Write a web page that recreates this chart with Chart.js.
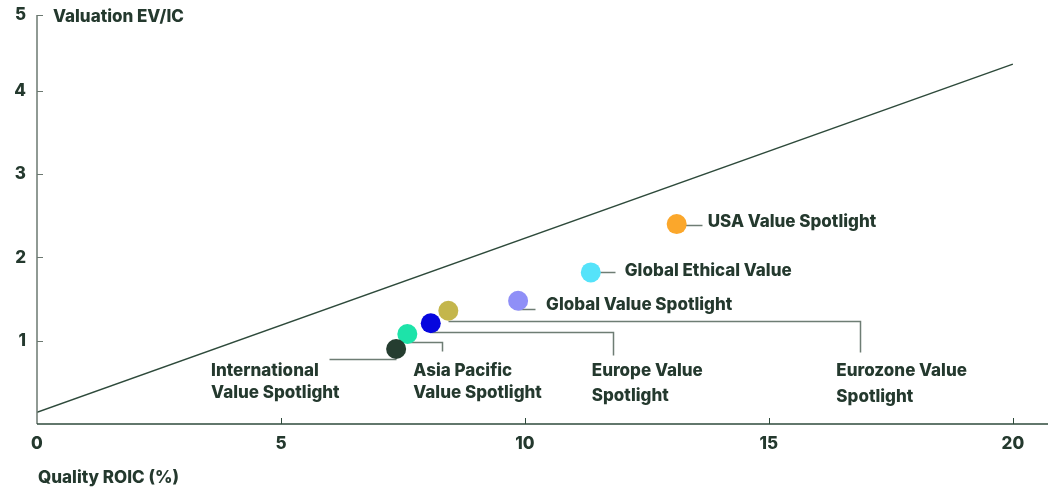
<!DOCTYPE html>
<html>
<head>
<meta charset="utf-8">
<script src="https://cdn.jsdelivr.net/npm/chart.js@4.4.1/dist/chart.umd.min.js"></script>
<style>
  html, body { margin: 0; padding: 0; background: #ffffff; }
  #wrap { width: 1048px; height: 490px; position: relative; }
</style>
</head>
<body>
<div id="wrap"><canvas id="c" width="1048" height="490"></canvas></div>
<script>
// ---- Data ----
const fundNames = ['USA Value Spotlight', 'Global Ethical Value', 'Global Value Spotlight', 'Eurozone Value Spotlight', 'Europe Value Spotlight', 'Asia Pacific Value Spotlight', 'International Value Spotlight'];
const qualityROIC = [13.11, 11.35, 9.86, 8.43, 8.07, 7.59, 7.36];
const valuationEVIC = [2.40, 1.82, 1.48, 1.36, 1.21, 1.08, 0.90];
const fundColors = ['#FBA72B', '#55E3FA', '#8F8FF7', '#C4B64C', '#0606DE', '#1DE3A9', '#253D30'];
const labelLines = [
  ['USA Value Spotlight'],
  ['Global Ethical Value'],
  ['Global Value Spotlight'],
  ['Eurozone Value', 'Spotlight'],
  ['Europe Value', 'Spotlight'],
  ['Asia Pacific', 'Value Spotlight'],
  ['International', 'Value Spotlight']
];
const trendX = [0, 20];
const trendY = [0.14, 4.32];
const xTickValues = [0, 5, 10, 15, 20];
const yTickValues = [1, 2, 3, 4, 5];
const xTitle = 'Quality ROIC (%)';
const yTitle = 'Valuation EV/IC';

// ---- Annotation layout (pixel offsets from each point centre) ----
const leaderPaths = [
  [[0, 1], [25, 1]],
  [[0, 0], [24, 0]],
  [[0, 8], [17, 8]],
  [[0, 10], [412, 10], [412, 41]],
  [[0, 9], [182, 9], [182, 32]],
  [[0, 8], [35, 8], [35, 17]],
  [[0, 10], [-67, 10]]
];
const labelOffsets = [
  { dx: 31, dy: [3] },
  { dx: 34, dy: [4] },
  { dx: 28, dy: [9] },
  { dx: 388, dy: [65, 91] },
  { dx: 161, dy: [53, 78] },
  { dx: 6, dy: [42, 64] },
  { dx: -185, dy: [27, 49] }
];

const TEXT = '#24392E';
const FONT_FAMILY = 'Inter, "Noto Sans", sans-serif';
const Y_TOP = 4.91;   // top of the value axis (labelled 5)
const X_MAX = 20.72;

const annotationPlugin = {
  id: 'annot',
  beforeDatasetsDraw(chart) {
    const ctx = chart.ctx;
    const xs = chart.scales.x, ys = chart.scales.y;
    ctx.save();
    ctx.strokeStyle = '#6E7D74';
    ctx.lineWidth = 1.5;
    qualityROIC.forEach((v, i) => {
      const px = xs.getPixelForValue(v), py = ys.getPixelForValue(valuationEVIC[i]);
      const path = leaderPaths[i];
      ctx.beginPath();
      path.forEach((p, j) => {
        const X = Math.round(px + p[0]) + 0.5, Y = Math.round(py + p[1]) + 0.5;
        if (j === 0) ctx.moveTo(X, Y); else ctx.lineTo(X, Y);
      });
      ctx.stroke();
    });
    ctx.restore();
  },
  afterDraw(chart) {
    const ctx = chart.ctx;
    const xs = chart.scales.x, ys = chart.scales.y;
    const ca = chart.chartArea;
    ctx.save();
    // axis lines
    ctx.lineWidth = 1.5;
    ctx.strokeStyle = '#6B7870';
    ctx.beginPath();
    ctx.moveTo(ca.left, ca.top);
    ctx.lineTo(ca.left, ca.bottom);
    ctx.stroke();
    ctx.strokeStyle = '#2E4A3B';
    ctx.beginPath();
    ctx.moveTo(ca.left, ca.bottom);
    ctx.lineTo(ca.right, ca.bottom);
    ctx.stroke();
    // inner ticks
    ctx.lineWidth = 1;
    ctx.strokeStyle = '#6B7870';
    yTickValues.forEach(v => {
      const y = Math.round(ys.getPixelForValue(Math.min(v, Y_TOP))) + 0.5;
      ctx.beginPath(); ctx.moveTo(ca.left, y); ctx.lineTo(ca.left + 6, y); ctx.stroke();
    });
    ctx.strokeStyle = '#2E4A3B';
    xTickValues.forEach(v => {
      if (v === 0) return;
      const x = Math.round(xs.getPixelForValue(v)) + 0.5;
      ctx.beginPath(); ctx.moveTo(x, ca.bottom); ctx.lineTo(x, ca.bottom - 6); ctx.stroke();
    });
    // axis titles
    ctx.fillStyle = TEXT;
    ctx.font = '800 17px ' + FONT_FAMILY;
    ctx.textAlign = 'left';
    ctx.textBaseline = 'alphabetic';
    ctx.fillText(yTitle, 53, 21.5);
    ctx.fillText(xTitle, 38, 483);
    // point labels
    qualityROIC.forEach((v, i) => {
      const px = xs.getPixelForValue(v), py = ys.getPixelForValue(valuationEVIC[i]);
      const off = labelOffsets[i];
      labelLines[i].forEach((t, j) => {
        ctx.fillText(t, px + off.dx, py + off.dy[j]);
      });
    });
    ctx.restore();
  }
};

const ctx = document.getElementById('c').getContext('2d');
new Chart(ctx, {
  type: 'scatter',
  data: {
    datasets: [
      {
        type: 'line',
        label: 'trend',
        data: trendX.map((x, i) => ({ x, y: trendY[i] })),
        borderColor: '#2E4A3B',
        borderWidth: 1.5,
        pointRadius: 0,
        fill: false
      },
      {
        label: 'funds',
        data: qualityROIC.map((x, i) => ({ x, y: valuationEVIC[i] })),
        backgroundColor: fundColors,
        borderWidth: 0,
        pointRadius: 10,
        pointHoverRadius: 10
      }
    ]
  },
  plugins: [annotationPlugin],
  options: {
    responsive: false,
    animation: false,
    devicePixelRatio: 1,
    layout: { autoPadding: false, padding: { top: 15, right: 0, left: 0, bottom: 0 } },
    plugins: { legend: { display: false }, tooltip: { enabled: false } },
    scales: {
      x: {
        type: 'linear',
        min: 0,
        max: X_MAX,
        grid: { display: false, drawTicks: false },
        border: { display: false },
        afterBuildTicks: (axis) => { axis.ticks = xTickValues.map(v => ({ value: v })); },
        afterFit: (axis) => { axis.height = 66; axis.paddingLeft = 0; axis.paddingRight = 0; },
        ticks: {
          padding: 10,
          color: TEXT,
          font: { family: FONT_FAMILY, size: 17, weight: '800' },
          maxRotation: 0,
          autoSkip: false,
          callback: (v) => String(v)
        }
      },
      y: {
        type: 'linear',
        min: 0,
        max: Y_TOP,
        grid: { display: false, drawTicks: false },
        border: { display: false },
        afterBuildTicks: (axis) => { axis.ticks = yTickValues.map(v => ({ value: Math.min(v, Y_TOP) })); },
        afterFit: (axis) => { axis.width = 37; axis.paddingTop = 0; axis.paddingBottom = 0; },
        ticks: {
          padding: 11,
          color: TEXT,
          font: { family: FONT_FAMILY, size: 17, weight: '800' },
          autoSkip: false,
          callback: (v) => String(Math.round(v))
        }
      }
    }
  }
});
</script>
</body>
</html>
